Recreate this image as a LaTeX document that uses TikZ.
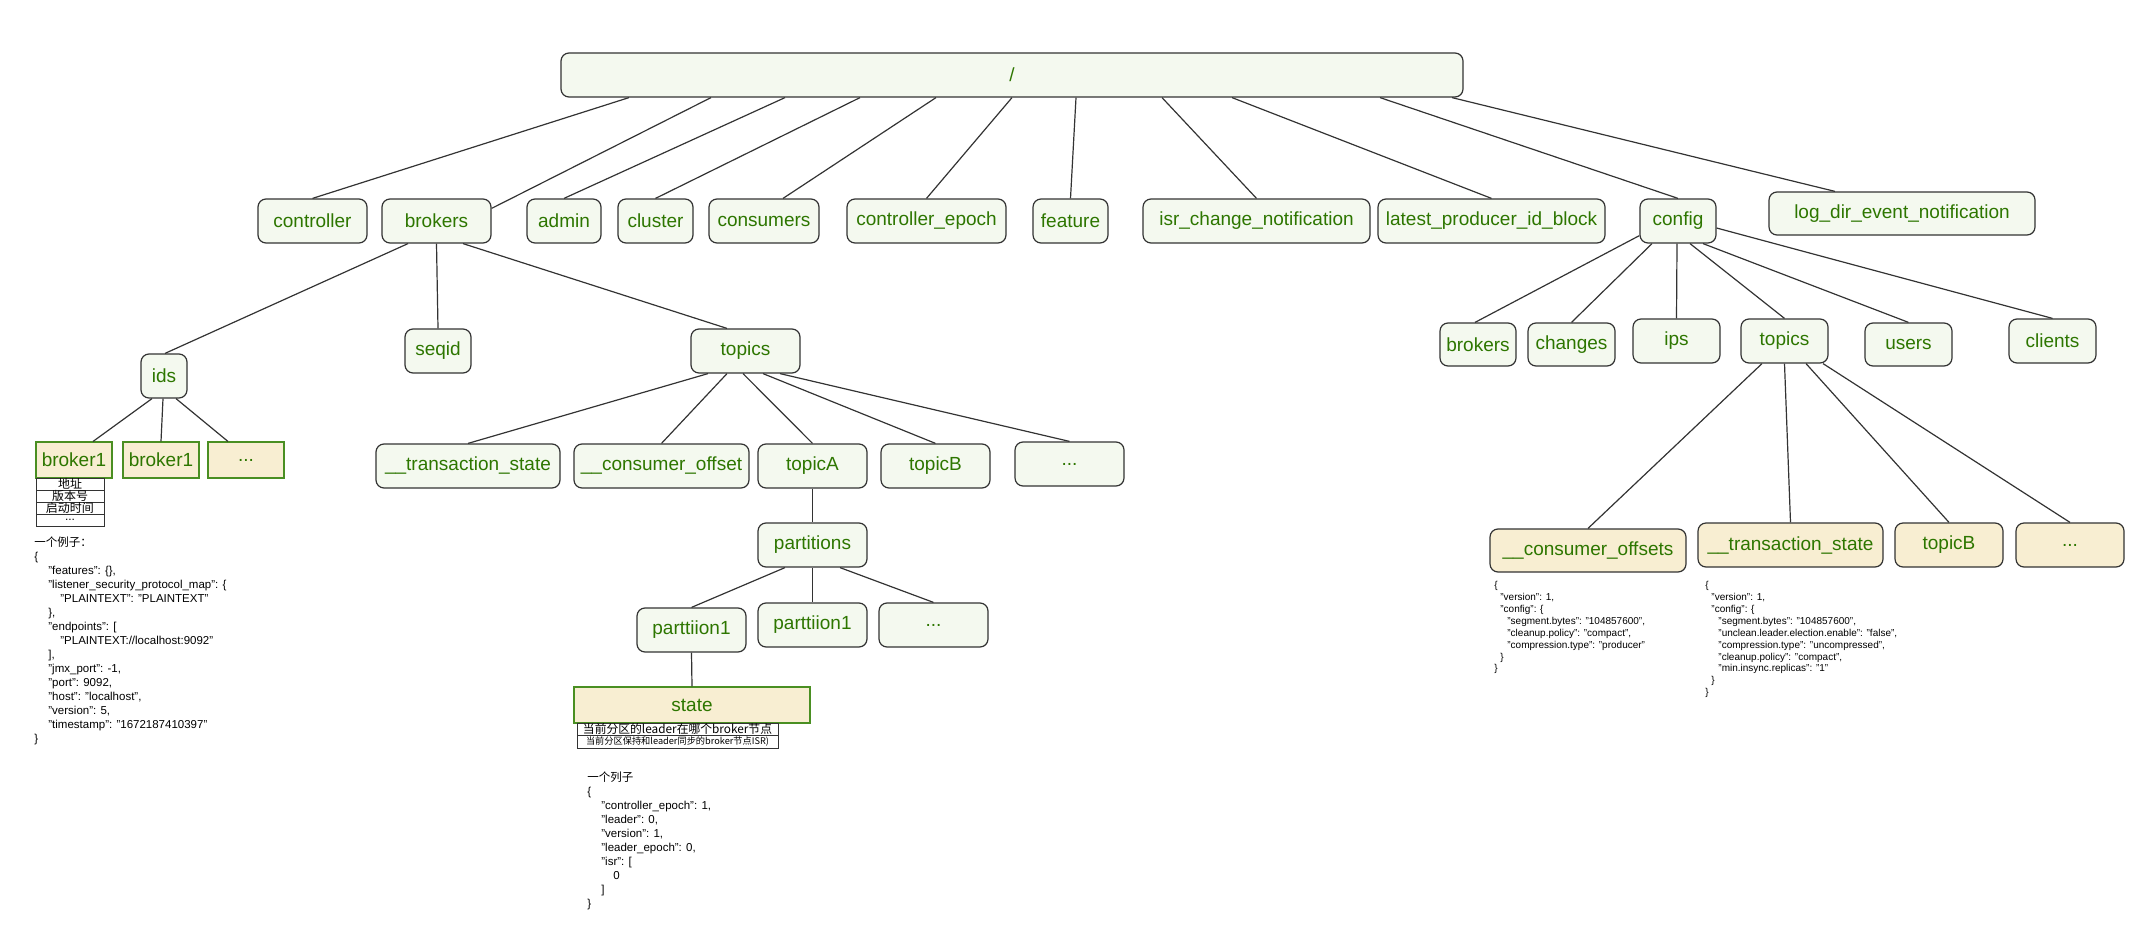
\documentclass[tikz,border=0pt]{standalone}
\usepackage{fontspec}
\setmainfont{Liberation Sans}
\newfontfamily\cjk{Noto Sans CJK SC}
\usetikzlibrary{calc}
\definecolor{tgreen}{HTML}{2D7600}
\definecolor{nfill}{HTML}{F4F9EF}
\definecolor{beige}{HTML}{F8EED2}
\definecolor{bgreen}{HTML}{4A8F22}
\definecolor{lncol}{HTML}{333333}
\begin{document}
\begin{tikzpicture}[x=0.5pt,y=-0.5pt,
  sz/.style 2 args={minimum width=#1, minimum height=#2},
  nd/.style={draw=lncol, line width=0.6pt, rounded corners=4pt, fill=nfill, text=tgreen, inner sep=0pt, font=\fontsize{9.5pt}{11pt}\selectfont},
  bx/.style={draw=bgreen, line width=0.55pt, fill=beige, text=tgreen, inner sep=0pt, font=\fontsize{9.5pt}{11pt}\selectfont},
  by/.style={nd, fill=beige},
  ln/.style={draw=lncol, line width=0.6pt},
  cell/.style={draw=lncol, line width=0.5pt, inner sep=0pt, fill=white, text=black},
  code/.style={inner sep=0pt, anchor=north west, align=left, text=black, font=\fontsize{5.75pt}{7pt}\selectfont},
  scode/.style={inner sep=0pt, anchor=north west, align=left, text=black, font=\fontsize{5pt}{5.95pt}\selectfont}
]
\useasboundingbox (0,0) rectangle (2136,931);

% root
\node[nd, sz={451pt}{22pt}] (root) at (1012,75) {/};

% level 1
\node[nd, sz={54.5pt}{22pt}] (controller) at (312.5,221) {controller};
\node[nd, sz={54.5pt}{22pt}] (brokers) at (436.5,221) {brokers};
\node[nd, sz={37pt}{22pt}] (admin) at (564,221) {admin};
\node[nd, sz={37.5pt}{22pt}] (cluster) at (655.5,221) {cluster};
\node[nd, sz={55pt}{22pt}] (consumers) at (764,221) {consumers};
\node[nd, sz={79.5pt}{22pt}] (cepoch) at (926.5,221) {controller\_epoch};
\node[nd, sz={37.5pt}{22pt}] (feature) at (1070.5,221) {feature};
\node[nd, sz={113.5pt}{22pt}] (isr) at (1256.5,221) {isr\_change\_notification};
\node[nd, sz={113.5pt}{22pt}] (latest) at (1491.5,221) {latest\_producer\_id\_block};
\node[nd, sz={38pt}{22pt}] (config) at (1678,221) {config};
\node[nd, sz={133pt}{21.5pt}] (logdir) at (1902,213.5) {log\_dir\_event\_notification};

\draw[ln] ([xshift=-191.5pt]root.south) -- (controller.north);
\draw[ln] ([xshift=-150.5pt]root.south) -- ([yshift=-5pt]brokers.north east);
\draw[ln] ([xshift=-113.5pt]root.south) -- (admin.north);
\draw[ln] ([xshift=-76pt]root.south) -- (cluster.north);
\draw[ln] ([xshift=-38pt]root.south) -- ([xshift=9.5pt]consumers.north);
\draw[ln] (root.south) -- (cepoch.north);
\draw[ln] ([xshift=32pt]root.south) -- (feature.north);
\draw[ln] ([xshift=75pt]root.south) -- (isr.north);
\draw[ln] ([xshift=110pt]root.south) -- (latest.north);
\draw[ln] ([xshift=184pt]root.south) -- (config.north);
\draw[ln] ([xshift=220pt]root.south) -- ([xshift=-33.5pt]logdir.north);

% brokers subtree
\node[nd, sz={23pt}{22pt}] (ids) at (164,376) {ids};
\node[nd, sz={33pt}{22pt}] (seqid) at (438,351) {seqid};
\node[nd, sz={54.5pt}{22pt}] (topics) at (745.5,351) {topics};
\draw[ln] ([xshift=-14.25pt]brokers.south) -- ([xshift=0.5pt]ids.north);
\draw[ln] (brokers.south) -- (seqid.north);
\draw[ln] ([xshift=13.25pt]brokers.south) -- ([xshift=-9.25pt]topics.north);

\node[bx, sz={38pt}{18pt}] (bk1) at (74,460) {broker1};
\node[bx, sz={38pt}{18pt}] (bk2) at (161,460) {broker1};
\node[bx, sz={38pt}{18pt}] (bk3) at (246,460) {...};
\draw[ln] ([xshift=-6pt]ids.south) -- ([xshift=9.5pt]bk1.north);
\draw[ln] ([xshift=-0.5pt]ids.south) -- (bk2.north);
\draw[ln] ([xshift=6pt]ids.south) -- ([xshift=-9pt]bk3.north);

\node[cell, sz={34pt}{6pt}, font=\cjk\fontsize{6pt}{6pt}\selectfont] (r1) at (70,484) {地址};
\node[cell, sz={34pt}{6pt}, font=\cjk\fontsize{6pt}{6pt}\selectfont] (r2) at (70,496) {版本号};
\node[cell, sz={34pt}{6pt}, font=\cjk\fontsize{6pt}{6pt}\selectfont] (r3) at (70,508) {启动时间};
\node[cell, sz={34pt}{6pt}, font=\fontsize{6pt}{6pt}\selectfont] (r4) at (70,520) {...};

\node[code] (ex1) at (34,536.5) {{\cjk 一个例子：}\\
\{\\
\hspace*{7pt}"features": \{\},\\
\hspace*{7pt}"listener\_security\_protocol\_map": \{\\
\hspace*{13pt}"PLAINTEXT": "PLAINTEXT"\\
\hspace*{7pt}\},\\
\hspace*{7pt}"endpoints": [\\
\hspace*{13pt}"PLAINTEXT://localhost:9092"\\
\hspace*{7pt}],\\
\hspace*{7pt}"jmx\_port": -1,\\
\hspace*{7pt}"port": 9092,\\
\hspace*{7pt}"host": "localhost",\\
\hspace*{7pt}"version": 5,\\
\hspace*{7pt}"timestamp": "1672187410397"\\
\}};

% topics subtree
\node[nd, sz={92pt}{22pt}] (trans) at (468,466) {\_\_transaction\_state};
\node[nd, sz={87.5pt}{22pt}] (coff) at (661.5,466) {\_\_consumer\_offset};
\node[nd, sz={54.5pt}{22pt}] (topicA) at (812.5,466) {topicA};
\node[nd, sz={54.5pt}{22pt}] (topicB) at (935.5,466) {topicB};
\node[nd, sz={54.5pt}{22pt}] (tdots) at (1069.5,464) {...};
\draw[ln] ([xshift=-18.75pt]topics.south) -- (trans.north);
\draw[ln] ([xshift=-9.25pt]topics.south) -- (coff.north);
\draw[ln] ([xshift=-1.25pt]topics.south) -- (topicA.north);
\draw[ln] ([xshift=8.75pt]topics.south) -- (topicB.north);
\draw[ln] ([xshift=17.25pt]topics.south) -- (tdots.north);

\node[nd, sz={54.5pt}{22pt}] (parts) at (812.5,545) {partitions};
\draw[ln] (topicA.south) -- (parts.north);
\node[nd, sz={54.5pt}{22pt}] (p1a) at (691.5,630) {parttiion1};
\node[nd, sz={54.5pt}{22pt}] (p1b) at (812.5,625) {parttiion1};
\node[nd, sz={54.5pt}{22pt}] (pdots) at (933.5,625) {...};
\draw[ln] ([xshift=-13.75pt]parts.south) -- (p1a.north);
\draw[ln] (parts.south) -- (p1b.north);
\draw[ln] ([xshift=13.75pt]parts.south) -- (pdots.north);

\node[bx, sz={118pt}{18pt}] (state) at (692,705) {state};
\draw[ln] (p1a.south) -- (state.north);
\node[cell, sz={100.5pt}{6pt}, font=\cjk\fontsize{5.9pt}{6pt}\selectfont] (s1) at (677.5,729) {当前分区的leader在哪个broker节点};
\node[cell, sz={100.5pt}{6.5pt}, font=\cjk\fontsize{4.6pt}{5pt}\selectfont] (s2) at (677.5,741.5) {当前分区保持和leader同步的broker节点ISR)};

\node[code] (ex2) at (587,771.5) {{\cjk 一个列子}\\
\{\\
\hspace*{7pt}"controller\_epoch": 1,\\
\hspace*{7pt}"leader": 0,\\
\hspace*{7pt}"version": 1,\\
\hspace*{7pt}"leader\_epoch": 0,\\
\hspace*{7pt}"isr": [\\
\hspace*{13pt}0\\
\hspace*{7pt}]\\
\}};

% config subtree
\node[nd, sz={38pt}{21.5pt}] (cbrokers) at (1478,344.5) {brokers};
\node[nd, sz={43.5pt}{21.5pt}] (changes) at (1571.5,344.5) {changes};
\node[nd, sz={43.5pt}{22pt}] (ips) at (1676.5,341) {ips};
\node[nd, sz={43.5pt}{22pt}] (ctopics) at (1784.5,341) {topics};
\node[nd, sz={43.5pt}{21.5pt}] (users) at (1908.5,344.5) {users};
\node[nd, sz={43.5pt}{22pt}] (clients) at (2052.5,341) {clients};
\draw[ln] ([yshift=4pt]config.south west) -- ([xshift=-1.5pt]cbrokers.north);
\draw[ln] ([xshift=-13pt]config.south) -- (changes.north);
\draw[ln] ([xshift=-0.5pt]config.south) -- (ips.north);
\draw[ln] ([xshift=6pt]config.south) -- (ctopics.north);
\draw[ln] ([xshift=12.5pt]config.south) -- (users.north);
\draw[ln] ([yshift=-3.5pt]config.east) -- (clients.north);

\node[by, sz={98pt}{21.5pt}] (cco) at (1588,550.5) {\_\_consumer\_offsets};
\node[by, sz={92.5pt}{22pt}] (cts) at (1790.5,545) {\_\_transaction\_state};
\node[by, sz={54pt}{22pt}] (ctb) at (1949,545) {topicB};
\node[by, sz={54pt}{22pt}] (cdots) at (2070,545) {...};
\draw[ln] ([xshift=-11.25pt]ctopics.south) -- (cco.north);
\draw[ln] (ctopics.south) -- (cts.north);
\draw[ln] ([xshift=10.75pt]ctopics.south) -- (ctb.north);
\draw[ln] ([xshift=19.25pt]ctopics.south) -- (cdots.north);

\node[scode] (ex3) at (1494,581) {\{\\
\hspace*{3pt}"version": 1,\\
\hspace*{3pt}"config": \{\\
\hspace*{6.5pt}"segment.bytes": "104857600",\\
\hspace*{6.5pt}"cleanup.policy": "compact",\\
\hspace*{6.5pt}"compression.type": "producer"\\
\hspace*{3pt}\}\\
\}};

\node[scode] (ex4) at (1705,581) {\{\\
\hspace*{3pt}"version": 1,\\
\hspace*{3pt}"config": \{\\
\hspace*{6.5pt}"segment.bytes": "104857600",\\
\hspace*{6.5pt}"unclean.leader.election.enable": "false",\\
\hspace*{6.5pt}"compression.type": "uncompressed",\\
\hspace*{6.5pt}"cleanup.policy": "compact",\\
\hspace*{6.5pt}"min.insync.replicas": "1"\\
\hspace*{3pt}\}\\
\}};
\end{tikzpicture}
\end{document}
